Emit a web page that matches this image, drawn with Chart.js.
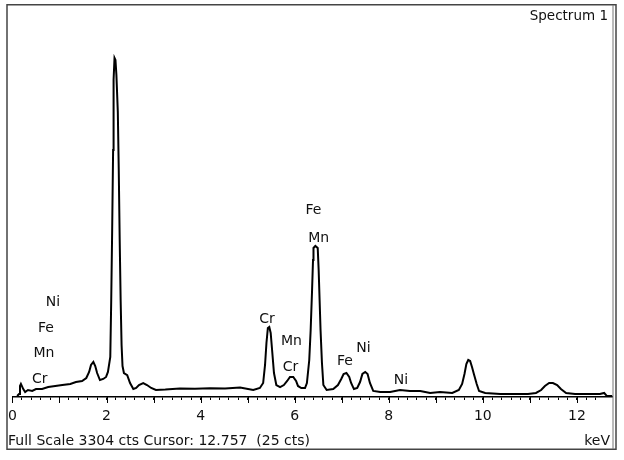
<!DOCTYPE html>
<html>
<head>
<meta charset="utf-8">
<script src="https://cdn.jsdelivr.net/npm/chart.js@4.4.1/dist/chart.umd.min.js"></script>
<style>
  html, body { margin: 0; padding: 0; background: #fff; }
  #wrap { width: 624px; height: 460px; }
</style>
</head>
<body>
<div id="wrap"><canvas id="spectrum" width="624" height="460"></canvas></div>
<script>
// EDS spectrum (energy in keV, counts)
const energy = [0.10, 0.14, 0.16, 0.18, 0.23, 0.27, 0.33, 0.42, 0.50, 0.63, 0.76, 0.91, 1.06, 1.23, 1.35, 1.48,
  1.57, 1.63, 1.67, 1.72, 1.76, 1.80, 1.86, 1.93, 1.99, 2.03, 2.08, 2.10, 2.12, 2.14, 2.15, 2.17, 2.19, 2.21,
  2.24, 2.26, 2.28, 2.30, 2.32, 2.34, 2.37, 2.44, 2.50, 2.57, 2.63, 2.69, 2.78, 2.86, 2.95, 3.05, 3.25, 3.56,
  3.88, 4.20, 4.52, 4.84, 5.12, 5.26, 5.33, 5.37, 5.40, 5.43, 5.46, 5.49, 5.52, 5.56, 5.61, 5.69, 5.77, 5.84,
  5.90, 5.97, 6.03, 6.07, 6.14, 6.22, 6.26, 6.31, 6.34, 6.37, 6.39, 6.40, 6.44, 6.49, 6.51, 6.53, 6.55, 6.58,
  6.61, 6.68, 6.82, 6.92, 6.99, 7.04, 7.10, 7.16, 7.20, 7.26, 7.33, 7.39, 7.44, 7.50, 7.55, 7.60, 7.67, 7.82,
  8.03, 8.24, 8.45, 8.67, 8.88, 9.09, 9.35, 9.49, 9.56, 9.61, 9.65, 9.69, 9.73, 9.77, 9.81, 9.87, 9.92, 10.05,
  10.37, 10.68, 10.96, 11.13, 11.24, 11.32, 11.41, 11.49, 11.58, 11.66, 11.77, 11.96, 12.28, 12.49, 12.58,
  12.64, 12.757];
const counts = [8, 25, 93, 110, 67, 42, 59, 51, 67, 67, 84, 93, 101, 110, 126, 135,
  160, 211, 270, 295, 261, 202, 143, 152, 169, 211, 337, 818, 1408, 2082, 2672, 2858, 2841, 2714,
  2403, 1914, 1324, 818, 438, 261, 202, 185, 118, 67, 76, 101, 118, 101, 76, 59, 63, 72,
  70, 74, 72, 80, 59, 76, 118, 270, 455, 582, 590, 540, 396, 202, 101, 84, 101, 135,
  169, 169, 135, 93, 76, 76, 118, 312, 565, 902, 1155, 1256, 1273, 1256, 1071, 818, 565, 287,
  101, 59, 67, 101, 152, 194, 202, 169, 118, 67, 76, 126, 194, 211, 194, 118, 51, 42,
  42, 59, 51, 51, 34, 42, 34, 59, 110, 194, 278, 312, 303, 253, 194, 110, 51, 34,
  25, 25, 25, 34, 59, 93, 118, 118, 101, 67, 34, 25, 25, 25, 34,
  8, 8];

const fullScale = 3304;
const cursorKeV = 12.757;
const tickLabelKeV = [0, 2, 4, 6, 8, 10, 12];

// element labels, anchored at (keV, counts) of the label centre
const peakLabels = [
  { text: 'Ni', x: 0.86, y: 807 },
  { text: 'Fe', x: 0.71, y: 590 },
  { text: 'Mn', x: 0.67, y: 382 },
  { text: 'Cr', x: 0.58, y: 160 },
  { text: 'Cr', x: 5.41, y: 668 },
  { text: 'Mn', x: 5.93, y: 480 },
  { text: 'Cr', x: 5.91, y: 264 },
  { text: 'Fe', x: 6.40, y: 1585 },
  { text: 'Mn', x: 6.51, y: 1351 },
  { text: 'Fe', x: 7.07, y: 308 },
  { text: 'Ni', x: 7.46, y: 424 },
  { text: 'Ni', x: 8.26, y: 148 }
];

const FONT = '"DejaVu Sans", "Liberation Sans", Arial, sans-serif';

const framePlugin = {
  id: 'frame',
  beforeDraw(chart) {
    const ctx = chart.ctx;
    ctx.save();
    ctx.fillStyle = '#fff';
    ctx.fillRect(0, 0, chart.width, chart.height);
    ctx.restore();
  },
  afterDraw(chart) {
    const ctx = chart.ctx;
    const xs = chart.scales.x;
    const ys = chart.scales.y;
    const area = chart.chartArea;
    ctx.save();

    // longer ticks at whole keV
    ctx.strokeStyle = '#000';
    ctx.lineWidth = 1;
    for (let v = 0; v <= Math.floor(cursorKeV); v++) {
      const px = Math.round(xs.getPixelForValue(v)) + 0.5;
      ctx.beginPath();
      ctx.moveTo(px, area.bottom);
      ctx.lineTo(px, area.bottom + 6);
      ctx.stroke();
    }

    // element labels
    ctx.fillStyle = '#111';
    ctx.font = '14px ' + FONT;
    ctx.textAlign = 'center';
    ctx.textBaseline = 'alphabetic';
    peakLabels.forEach(l => {
      ctx.fillText(l.text, xs.getPixelForValue(l.x), ys.getPixelForValue(l.y) + 5);
    });

    // header / footer texts
    ctx.font = '13.5px ' + FONT;
    ctx.textAlign = 'right';
    ctx.fillText('Spectrum 1', 608, 20);
    ctx.font = '14px ' + FONT;
    ctx.textAlign = 'left';
    ctx.fillText('Full Scale ' + fullScale + ' cts Cursor: ' + cursorKeV + '  (25 cts)', 8, 445);
    ctx.textAlign = 'right';
    ctx.fillText('keV', 610, 445);

    // window frame
    ctx.strokeStyle = '#444';
    ctx.lineWidth = 1.5;
    ctx.strokeRect(7, 4.75, 609, 444.5);
    ctx.strokeStyle = '#777';
    ctx.lineWidth = 1;
    ctx.beginPath();
    ctx.moveTo(area.right + 0.5, 5);
    ctx.lineTo(area.right + 0.5, 449);
    ctx.stroke();
    ctx.restore();
  }
};

new Chart(document.getElementById('spectrum'), {
  type: 'line',
  data: {
    datasets: [{
      label: 'Spectrum 1',
      data: energy.map((e, i) => ({ x: e, y: counts[i] })),
      borderColor: '#000',
      borderWidth: 2,
      pointRadius: 0,
      tension: 0,
      fill: false
    }]
  },
  options: {
    responsive: false,
    animation: false,
    events: [],
    layout: { padding: { left: 12, right: 11.5, top: 5, bottom: 0 } },
    plugins: {
      legend: { display: false },
      tooltip: { enabled: false }
    },
    scales: {
      x: {
        type: 'linear',
        min: 0,
        max: cursorKeV,
        afterFit(scale) { scale.height = 63; },
        afterBuildTicks(scale) {
          scale.ticks = scale.ticks.filter(t => Math.abs(t.value * 5 - Math.round(t.value * 5)) < 1e-6);
        },
        border: { display: true, color: '#000', width: 1.5 },
        grid: { drawOnChartArea: false, drawTicks: true, tickLength: 3, tickColor: '#000', tickWidth: 1 },
        ticks: {
          stepSize: 0.2,
          autoSkip: false,
          maxRotation: 0,
          padding: 8,
          color: '#111',
          font: { family: FONT, size: 14 },
          callback(value) {
            const hit = tickLabelKeV.find(v => Math.abs(v - value) < 1e-6);
            return hit !== undefined ? String(hit) : '';
          }
        }
      },
      y: {
        type: 'linear',
        display: false,
        min: 0,
        max: fullScale
      }
    }
  },
  plugins: [framePlugin]
});
</script>
</body>
</html>
